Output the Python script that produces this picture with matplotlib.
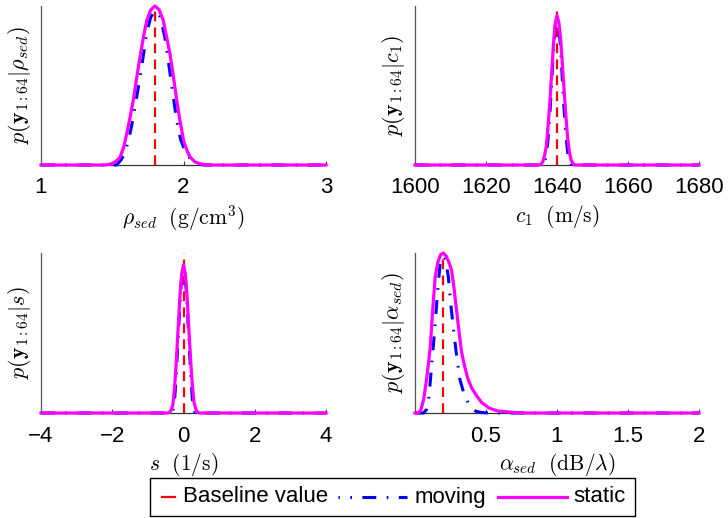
import matplotlib
matplotlib.use("Agg")
import matplotlib.pyplot as plt
from matplotlib.lines import Line2D
from matplotlib.patches import Rectangle

plt.rcParams['font.family'] = ['Liberation Sans', 'DejaVu Sans']
plt.rcParams['mathtext.fontset'] = 'cm'
plt.rcParams['lines.scale_dashes'] = False

# ---------------- data ----------------
# rho_sed (g/cm^3)
rho_static_x = [1.0, 1.45, 1.48, 1.50, 1.52, 1.54, 1.555, 1.58, 1.60, 1.625, 1.648, 1.67, 1.695, 1.72, 1.742,
                1.77, 1.80, 1.83, 1.858, 1.88, 1.905, 1.93, 1.952, 1.975, 2.0, 2.025, 2.046, 2.08, 2.116,
                2.15, 2.19, 3.0]
rho_static_y = [0, 0, 0.004, 0.01, 0.02, 0.035, 0.05, 0.11, 0.19, 0.30, 0.41, 0.54, 0.68, 0.81, 0.91,
                0.975, 1.0, 0.975, 0.91, 0.81, 0.70, 0.55, 0.41, 0.28, 0.155, 0.09, 0.05, 0.02, 0.008,
                0.002, 0, 0]
rho_moving_x = [1.0, 1.53, 1.56, 1.58, 1.60, 1.625, 1.648, 1.67, 1.695, 1.72, 1.742, 1.77, 1.80, 1.83,
                1.85, 1.87, 1.905, 1.93, 1.952, 1.98, 2.01, 2.05, 2.09, 2.14, 3.0]
rho_moving_y = [0, 0, 0.03, 0.06, 0.11, 0.20, 0.30, 0.42, 0.55, 0.70, 0.83, 0.93, 0.97, 0.94,
                0.88, 0.80, 0.58, 0.42, 0.28, 0.16, 0.09, 0.035, 0.01, 0, 0]
rho_base = 1.8

# c1 (m/s)
c1_static_x = [1600, 1635, 1635.5, 1636, 1636.5, 1637, 1637.5, 1638, 1638.5, 1639, 1639.5, 1640, 1640.5,
               1641, 1641.5, 1642, 1642.5, 1643, 1643.5, 1644, 1644.5, 1645, 1680]
c1_static_y = [0, 0, 0.006, 0.02, 0.06, 0.12, 0.25, 0.40, 0.58, 0.76, 0.89, 0.94, 0.90,
               0.80, 0.64, 0.47, 0.31, 0.17, 0.08, 0.03, 0.008, 0, 0]
c1_moving_x = [1600, 1636, 1636.5, 1637, 1637.5, 1638, 1638.5, 1639, 1639.5, 1640, 1640.5, 1641, 1641.5,
               1642, 1642.5, 1643, 1643.5, 1644, 1645, 1680]
c1_moving_y = [0, 0, 0.02, 0.06, 0.17, 0.32, 0.52, 0.72, 0.87, 0.93, 0.87, 0.74, 0.54,
               0.35, 0.19, 0.08, 0.025, 0.005, 0, 0]
c1_base = 1640

# s (1/s)
s_static_x = [-4, -0.45, -0.4, -0.35, -0.3, -0.25, -0.2, -0.15, -0.1, -0.05, 0.0, 0.05, 0.1, 0.15, 0.2,
              0.25, 0.3, 0.35, 0.4, 0.45, 4]
s_static_y = [0, 0, 0.004, 0.015, 0.05, 0.16, 0.33, 0.53, 0.73, 0.87, 0.925, 0.87, 0.73, 0.53, 0.33,
              0.17, 0.06, 0.02, 0.005, 0, 0]
s_moving_x = [-4, -0.35, -0.3, -0.25, -0.2, -0.15, -0.1, -0.05, 0.0, 0.05, 0.1, 0.15, 0.2, 0.25, 0.3,
              0.35, 4]
s_moving_y = [0, 0, 0.01, 0.08, 0.25, 0.47, 0.68, 0.86, 0.92, 0.86, 0.68, 0.47, 0.25, 0.08, 0.01, 0, 0]
s_base = 0.0

# alpha_sed (dB/lambda)
a_static_x = [0.0, 0.02, 0.04, 0.061, 0.08, 0.095, 0.108, 0.125, 0.142, 0.16, 0.18, 0.20, 0.22, 0.24,
              0.258, 0.275, 0.293, 0.31, 0.328, 0.35, 0.374, 0.40, 0.432, 0.47, 0.524, 0.58, 0.663,
              0.72, 0.78, 2.0]
a_static_y = [0, 0, 0.015, 0.085, 0.2, 0.31, 0.42, 0.65, 0.85, 0.94, 0.99, 1.0, 0.98, 0.94,
              0.89, 0.78, 0.64, 0.51, 0.38, 0.29, 0.21, 0.155, 0.11, 0.065, 0.03, 0.013, 0.006,
              0.002, 0, 0]
a_moving_x = [0.0, 0.06, 0.08, 0.096, 0.108, 0.119, 0.135, 0.149, 0.163, 0.177, 0.19, 0.20, 0.215,
              0.235, 0.25, 0.27, 0.29, 0.316, 0.345, 0.374, 0.40, 0.43, 0.47, 0.52, 2.0]
a_moving_y = [0, 0, 0.02, 0.085, 0.2, 0.32, 0.48, 0.64, 0.80, 0.93, 0.97, 0.98, 0.96,
              0.85, 0.70, 0.53, 0.38, 0.21, 0.12, 0.064, 0.03, 0.01, 0.003, 0, 0]
a_base = 0.2

panels = [
    dict(sx=rho_static_x, sy=rho_static_y, mx=rho_moving_x, my=rho_moving_y, b=rho_base,
         xlim=(1, 3), xticks=[1, 2, 3], xticklabels=['1', '2', '3'],
         xlabel=r'$\rho_{sed}\ \ (\mathrm{g/cm^3})$', ylabel=r'$p(\mathbf{y}_{1:64}|\rho_{sed})$'),
    dict(sx=c1_static_x, sy=c1_static_y, mx=c1_moving_x, my=c1_moving_y, b=c1_base,
         xlim=(1600, 1680), xticks=[1600, 1620, 1640, 1660, 1680],
         xticklabels=['1600', '1620', '1640', '1660', '1680'],
         xlabel=r'$c_1\ \ (\mathrm{m/s})$', ylabel=r'$p(\mathbf{y}_{1:64}|c_1)$'),
    dict(sx=s_static_x, sy=s_static_y, mx=s_moving_x, my=s_moving_y, b=s_base,
         xlim=(-4, 4), xticks=[-4, -2, 0, 2, 4], xticklabels=['\u22124', '\u22122', '0', '2', '4'],
         xlabel=r'$s\ \ (1/\mathrm{s})$', ylabel=r'$p(\mathbf{y}_{1:64}|s)$'),
    dict(sx=a_static_x, sy=a_static_y, mx=a_moving_x, my=a_moving_y, b=a_base,
         xlim=(0, 2), xticks=[0.5, 1, 1.5, 2], xticklabels=['0.5', '1', '1.5', '2'],
         xlabel=r'$\alpha_{sed}\ \ (\mathrm{dB}/\lambda)$', ylabel=r'$p(\mathbf{y}_{1:64}|\alpha_{sed})$'),
]

W, H = 728, 518
fig = plt.figure(figsize=(W / 100, H / 100), dpi=100)

# axes rectangles in pixels: left, top, right, bottom
rects = [(41, 6, 326, 165), (415, 6, 699, 165), (41, 253, 326, 413), (415, 253, 699, 413)]

RED = '#ff0000'
BLUE = '#0000ff'
MAG = '#ff00ff'
dash_red = (0, (7, 4.5))
dash_blue = (0, (10, 7.5, 1.2, 7.5))

for p, (l, t, r, b) in zip(panels, rects):
    ax = fig.add_axes([l / W, 1 - b / H, (r - l) / W, (b - t) / H])
    ax.plot([p['b'], p['b']], [0, 1.0], color=RED, lw=1.6, linestyle=dash_red, zorder=3)
    ax.plot(p['mx'], p['my'], color=BLUE, lw=2.2, linestyle=dash_blue, zorder=4, clip_on=False)
    ax.plot(p['sx'], p['sy'], color=MAG, lw=2.3, zorder=5, clip_on=False,
            solid_joinstyle='round')
    ax.set_xlim(*p['xlim'])
    ax.set_ylim(0, 1.0)
    ax.set_xticks(p['xticks'])
    ax.set_xticklabels(p['xticklabels'])
    ax.set_yticks([])
    ax.tick_params(axis='x', direction='in', length=3, width=0.8, color='#444444',
                   labelsize=16, pad=9)
    for side in ('top', 'right'):
        ax.spines[side].set_visible(False)
    ax.spines['left'].set_color('#555555')
    ax.spines['bottom'].set_color('#333333')
    ax.spines['left'].set_linewidth(0.9)
    ax.spines['bottom'].set_linewidth(0.9)
    ax.set_xlabel(p['xlabel'], fontsize=15.5, labelpad=3)
    ax.set_ylabel(p['ylabel'], fontsize=16, labelpad=6)
    ax.patch.set_visible(False)

# ---------------- legend (drawn in figure pixel coords) ----------------
def fx(x):
    return x / W

def fy(y):
    return 1 - y / H

fig.add_artist(Rectangle((fx(150), fy(516)), (635 - 150) / W, (516 - 478) / H,
                         transform=fig.transFigure, facecolor='white', edgecolor='black', lw=1.0))
ly = 497
fig.add_artist(Line2D([fx(162), fx(175)], [fy(ly), fy(ly)], transform=fig.transFigure,
                      color=RED, lw=1.6))
fig.text(fx(183), fy(ly), 'Baseline value', fontsize=16, va='center', ha='left')
fig.add_artist(Line2D([fx(338), fx(407)], [fy(ly), fy(ly)], transform=fig.transFigure,
                      color=BLUE, lw=2.2, linestyle=(9, (10, 7.5, 1.2, 7.5))))
fig.text(fx(415), fy(ly), 'moving', fontsize=16, va='center', ha='left')
fig.add_artist(Line2D([fx(498), fx(567)], [fy(ly), fy(ly)], transform=fig.transFigure,
                      color=MAG, lw=2.3))
fig.text(fx(573), fy(ly), 'static', fontsize=16, va='center', ha='left')

fig.savefig('out.png', dpi=100)
